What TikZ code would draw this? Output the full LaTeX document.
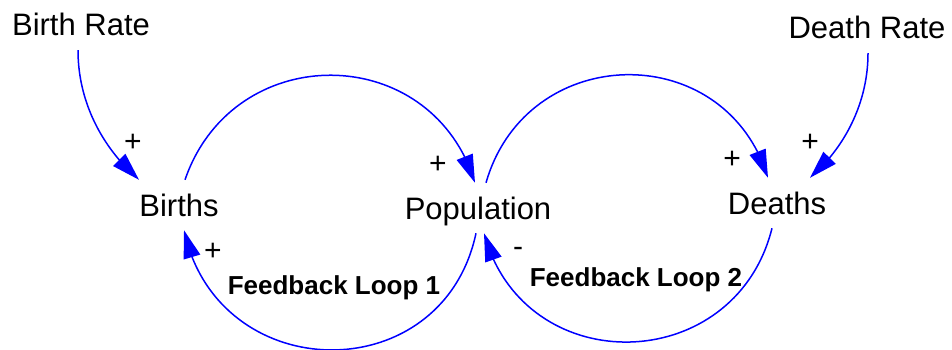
\documentclass[tikz,border=0pt]{standalone}
\usepackage{fontspec}
\setmainfont{Liberation Sans}
\usepackage{tikz}
\usetikzlibrary{arrows.meta,bending}

\begin{document}
\begin{tikzpicture}[
  x=1pt, y=1pt,
  var/.style={inner sep=0pt, minimum height=50pt, text height=22pt, text depth=0pt,
    font=\fontsize{31}{36}\selectfont},
  sign/.style={inner sep=0pt, font=\fontsize{30}{34}\selectfont},
  loopLabel/.style={inner sep=0pt, text height=18.5pt, text depth=0pt,
    font=\fontsize{26}{30}\selectfont\bfseries},
  link/.style={-{Triangle[length=28pt,width=17pt]}, line width=1.5pt, draw=blue}
]
  \useasboundingbox (0,0) rectangle (952,349);

  \node[var] (birthrate) at (81,324) {Birth Rate};
  \node[var] (births) at (179,144) {Births};
  \node[var] (population) at (478,141) {Population};
  \node[var] (deaths) at (777,146) {Deaths};
  \node[var] (deathrate) at (867,321) {Death Rate};

  \node[loopLabel] (loopOne) at (334,64) {Feedback Loop 1};
  \node[loopLabel] (loopTwo) at (636,72) {Feedback Loop 2};

  % polarities
  \node[sign] (pBirthRate) at (133,206) {+};
  \node[sign] (pLoopOne) at (213,97) {+};
  \node[sign] (pPopTop) at (438,184) {+};
  \node[sign] (mPop) at (518,97) {-};
  \node[sign] (pDeathsTop) at (732,189) {+};
  \node[sign] (pDeathRate) at (810,206) {+};

  \draw[link] ([xshift=-3pt]birthrate.south) to[out=-90, in=139, looseness=0.9] ([xshift=-40pt]births.north);
  \draw[link] ([xshift=6pt]births.north) to[out=71, in=107, looseness=1.31] ([xshift=-3pt]population.north);
  \draw[link] ([xshift=8pt]population.north) to[out=74, in=107, looseness=1.33] ([xshift=-9pt]deaths.north);
  \draw[link] ([xshift=1pt]deathrate.south) to[out=-90, in=41, looseness=0.89] ([xshift=33pt]deaths.north);
  \draw[link] ([xshift=-5pt]deaths.south) to[out=-104, in=-75, looseness=1.36] ([xshift=6pt]population.south);
  \draw[link] ([xshift=-2pt]population.south) to[out=-102, in=-78, looseness=1.41] ([xshift=5pt]births.south);
\end{tikzpicture}
\end{document}
